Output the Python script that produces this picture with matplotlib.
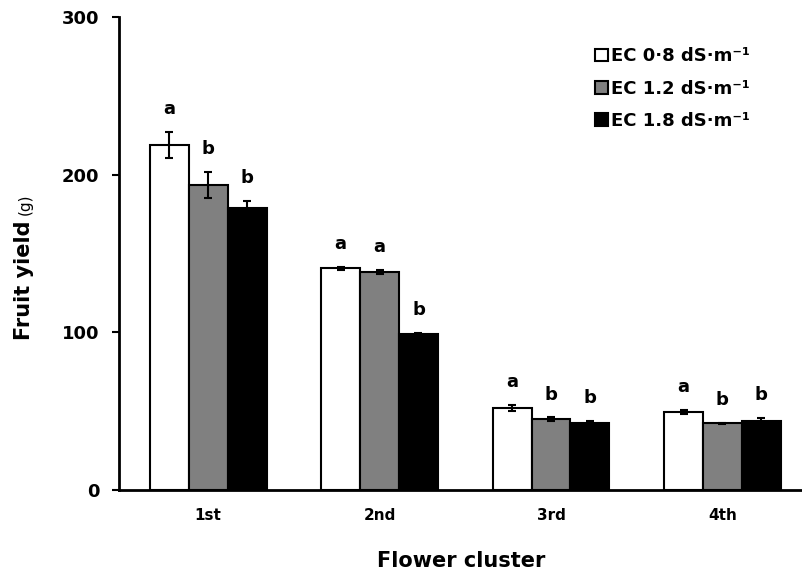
import numpy as np
import matplotlib.pyplot as plt

# Fruit yield per flower cluster under three EC levels
clusters = ['1st', '2nd', '3rd', '4th']
labels = ['EC 0·8 dS·m⁻¹', 'EC 1.2 dS·m⁻¹', 'EC 1.8 dS·m⁻¹']
yield_ec08 = [219, 140.5, 52, 49.5]
yield_ec12 = [193.5, 138.2, 45, 42.2]
yield_ec18 = [179, 99, 42.3, 44]
err_ec08 = [8.3, 1, 1.8, 1.3]
err_ec12 = [8.3, 1.3, 1, 0.6]
err_ec18 = [4.2, 0.8, 1.3, 1.6]
letters_ec08 = ['a', 'a', 'a', 'a']
letters_ec12 = ['b', 'a', 'b', 'b']
letters_ec18 = ['b', 'b', 'b', 'b']

plt.rcParams['font.family'] = ['DejaVu Sans']
plt.rcParams['font.weight'] = 'bold'

fig = plt.figure(figsize=(8.03, 5.79), dpi=100)
ax = fig.add_axes([119 / 803, 89 / 579, 684 / 803, 473 / 579])

x = np.arange(len(clusters))
w = 0.227
series = [
    (yield_ec08, err_ec08, letters_ec08, 'white'),
    (yield_ec12, err_ec12, letters_ec12, '#808080'),
    (yield_ec18, err_ec18, letters_ec18, 'black'),
]
for i, (vals, errs, lets, col) in enumerate(series):
    pos = x + (i - 1) * w
    ax.bar(pos, vals, w, color=col, edgecolor='black', linewidth=1.5,
           label=labels[i], zorder=2)
    ax.errorbar(pos, vals, yerr=errs, fmt='none', ecolor='black',
                elinewidth=1.5, capsize=3, capthick=1.5, zorder=3)
    for p, v, e, t in zip(pos, vals, errs, lets):
        ax.annotate(t, (p, v + e), xytext=(0, 10), textcoords='offset points',
                    ha='center', va='bottom', fontsize=13, fontweight='bold')

ax.set_xlim(-0.52, 3.47)
ax.set_ylim(0, 300)
ax.set_yticks([0, 100, 200, 300])
ax.set_xticks(x)
ax.set_xticklabels(clusters, fontsize=11, fontweight='bold')
ax.tick_params(axis='y', labelsize=13, length=5, width=1.5, pad=9, direction='out')
ax.tick_params(axis='x', length=0, pad=13)

for s in ['top', 'right']:
    ax.spines[s].set_visible(False)
for s in ['left', 'bottom']:
    ax.spines[s].set_linewidth(2)

ax.set_xlabel('Flower cluster', fontsize=15, fontweight='bold', labelpad=20)

# y label with a smaller unit
fig.text(24 / 803, 1 - 280 / 579, 'Fruit yield', rotation=90, ha='center',
         va='center', fontsize=15, fontweight='bold')
fig.text(25 / 803, 1 - 204 / 579, '(g)', rotation=90, ha='center',
         va='center', fontsize=11, fontweight='normal')

ax.legend(loc='upper left', bbox_to_anchor=(588 / 803, 1 - 40 / 579),
          bbox_transform=fig.transFigure, frameon=False, fontsize=13,
          handlelength=0.7, handleheight=0.7, handletextpad=0.15,
          labelspacing=0.8, borderaxespad=0)

fig.savefig('out.png', dpi=100)
